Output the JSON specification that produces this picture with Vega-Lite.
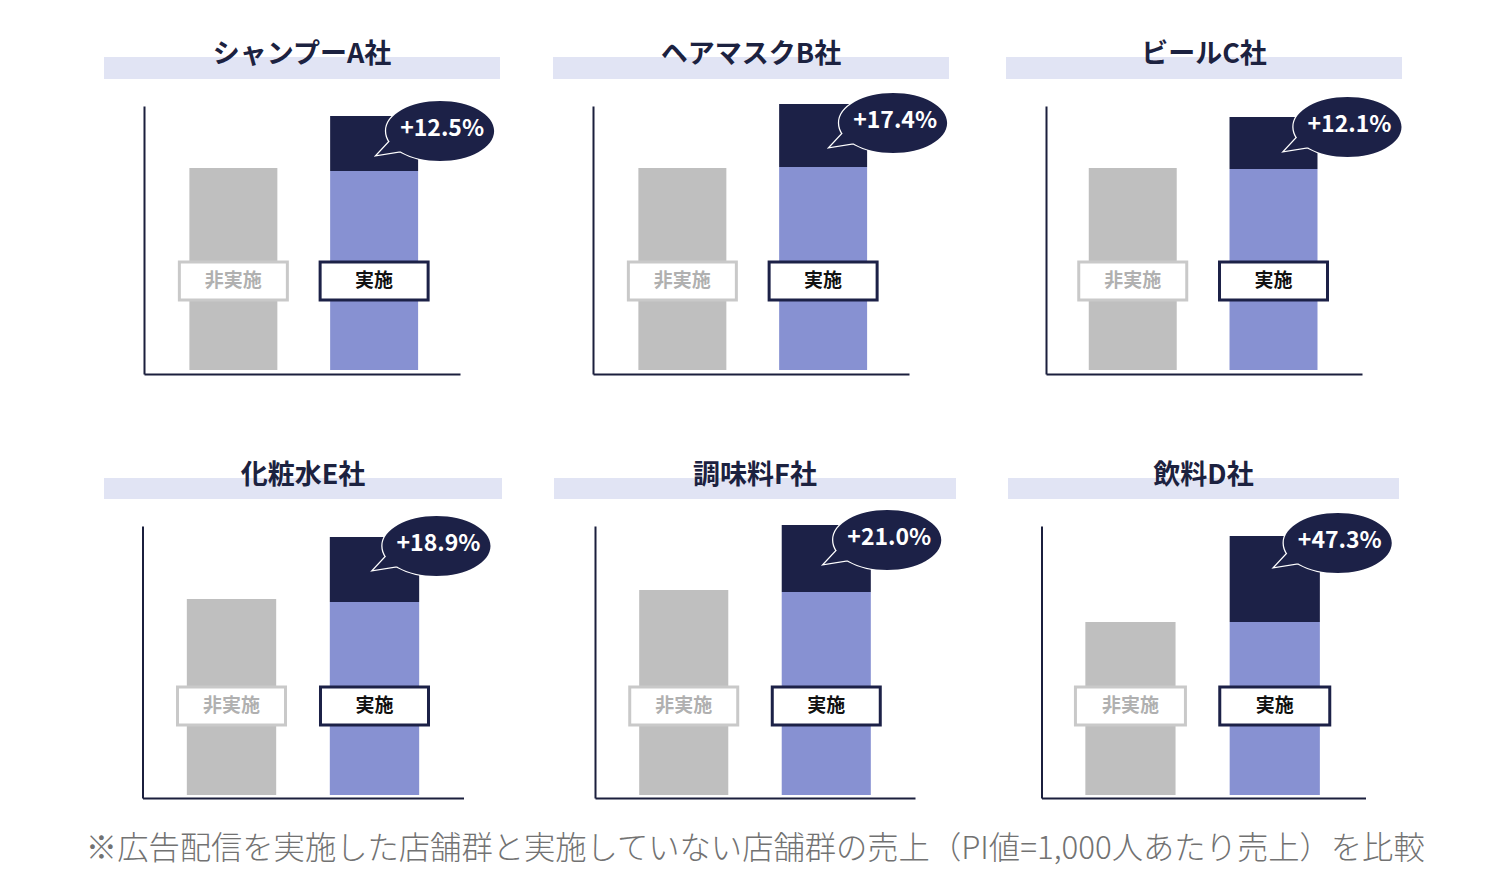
{
  "$schema": "https://vega.github.io/schema/vega-lite/v6.json",
  "padding": {"left": 85, "top": 41, "right": 0, "bottom": 10},
  "background": "white",
  "datasets": {
    "bars": [
      {"company": "シャンプーA社", "group": "非実施", "part": "非実施", "value": 202},
      {"company": "シャンプーA社", "group": "実施", "part": "実施", "value": 199},
      {"company": "シャンプーA社", "group": "実施", "part": "増分", "value": 55, "lift": "+12.5%"},
      {"company": "ヘアマスクB社", "group": "非実施", "part": "非実施", "value": 202},
      {"company": "ヘアマスクB社", "group": "実施", "part": "実施", "value": 203},
      {"company": "ヘアマスクB社", "group": "実施", "part": "増分", "value": 63, "lift": "+17.4%"},
      {"company": "ビールC社", "group": "非実施", "part": "非実施", "value": 202},
      {"company": "ビールC社", "group": "実施", "part": "実施", "value": 201},
      {"company": "ビールC社", "group": "実施", "part": "増分", "value": 52, "lift": "+12.1%"},
      {"company": "化粧水E社", "group": "非実施", "part": "非実施", "value": 196},
      {"company": "化粧水E社", "group": "実施", "part": "実施", "value": 193},
      {"company": "化粧水E社", "group": "実施", "part": "増分", "value": 65, "lift": "+18.9%"},
      {"company": "調味料F社", "group": "非実施", "part": "非実施", "value": 205},
      {"company": "調味料F社", "group": "実施", "part": "実施", "value": 203},
      {"company": "調味料F社", "group": "実施", "part": "増分", "value": 67, "lift": "+21.0%"},
      {"company": "飲料D社", "group": "非実施", "part": "非実施", "value": 173},
      {"company": "飲料D社", "group": "実施", "part": "実施", "value": 173},
      {"company": "飲料D社", "group": "実施", "part": "増分", "value": 86, "lift": "+47.3%"}
    ]
  },
  "title": {
    "text": "※広告配信を実施した店舗群と実施していない店舗群の売上（PI値=1,000人あたり売上）を比較",
    "orient": "bottom",
    "anchor": "middle",
    "fontSize": 31.3,
    "fontWeight": 300,
    "color": "#727272",
    "offset": 36
  },
  "spacing": 87,
  "vconcat": [
    {
      "spacing": 53,
      "hconcat": [
        {
          "columns": 1, "spacing": 27, "center": true, "align": "each", "bounds": "flush",
          "concat": [
            {
              "width": 396, "height": 22,
              "view": {"fill": "#e1e4f4", "stroke": null},
              "data": {"name": "bars"},
              "transform": [{"filter": "datum.company == 'シャンプーA社' && datum.part == '非実施'"}],
              "mark": {"type": "text", "fontSize": 27, "fontWeight": "bold", "color": "#1c2240", "dy": -13},
              "encoding": {"text": {"field": "company"}}
            },
            {
              "width": 316, "height": 268,
              "data": {"name": "bars"},
              "transform": [{"filter": "datum.company == 'シャンプーA社'"}],
              "encoding": {"x": {"field": "group", "type": "nominal", "sort": ["非実施", "実施"], "title": null, "scale": {"paddingInner": 0.375, "paddingOuter": 0.31, "align": 0.52}}},
              "layer": [
                {"mark": "bar", "encoding": {
                  "y": {"field": "value", "type": "quantitative", "stack": "zero", "title": null, "scale": {"domain": [-4, 264], "nice": false}},
                  "color": {"field": "part", "type": "nominal", "scale": {"domain": ["非実施", "実施", "増分"], "range": ["#bfbfbf", "#8791d2", "#1c2147"]}, "legend": null},
                  "order": {"field": "part", "sort": "descending"}}},
                {"transform": [{"filter": "datum.part != '増分'"}],
                 "mark": {"type": "bar", "width": 108, "fill": "white", "opacity": 1, "strokeWidth": 3, "stroke": {"expr": "datum.group == '実施' ? '#1c2147' : '#c9c9c9'"}},
                 "encoding": {"y": {"datum": 70}, "y2": {"datum": 108}}},
                {"transform": [{"filter": "datum.part != '増分'"}],
                 "mark": {"type": "text", "fontSize": 19, "fontWeight": "bold", "color": {"expr": "datum.group == '実施' ? '#111111' : '#b0b0b0'"}},
                 "encoding": {"y": {"datum": 89}, "text": {"field": "group"}}},
                {"transform": [{"filter": "datum.group == '実施'"}, {"joinaggregate": [{"op": "sum", "field": "value", "as": "total"}]}, {"filter": "datum.part == '増分'"}],
                 "mark": {"type": "point", "shape": "M-0.9818,0C-0.9818,-0.3013,-0.5422,-0.5455,0,-0.5455C0.5422,-0.5455,0.9818,-0.3013,0.9818,0C0.9818,0.3013,0.5422,0.5455,0,0.5455C-0.5422,0.5455,-0.9818,0.3013,-0.9818,0ZM-0.9091,0.1818L-0.6909,0.3636L-1.1455,0.4364Z", "size": 12100, "filled": true, "fill": "#1c2147", "stroke": "white", "strokeWidth": 2.5, "opacity": 1, "xOffset": 66, "yOffset": 15},
                 "encoding": {"y": {"field": "total", "type": "quantitative", "title": null}}},
                {"transform": [{"filter": "datum.group == '実施'"}, {"joinaggregate": [{"op": "sum", "field": "value", "as": "total"}]}, {"filter": "datum.part == '増分'"}],
                 "mark": {"type": "point", "shape": "M-0.9818,0C-0.9818,-0.3013,-0.5422,-0.5455,0,-0.5455C0.5422,-0.5455,0.9818,-0.3013,0.9818,0C0.9818,0.3013,0.5422,0.5455,0,0.5455C-0.5422,0.5455,-0.9818,0.3013,-0.9818,0ZM-0.9091,0.1818L-0.6909,0.3636L-1.1455,0.4364Z", "size": 12100, "filled": true, "fill": "#1c2147", "strokeWidth": 0, "opacity": 1, "xOffset": 66, "yOffset": 15},
                 "encoding": {"y": {"field": "total", "type": "quantitative", "title": null}}},
                {"transform": [{"filter": "datum.group == '実施'"}, {"joinaggregate": [{"op": "sum", "field": "value", "as": "total"}]}, {"filter": "datum.part == '増分'"}],
                 "mark": {"type": "text", "fontSize": 23, "fontWeight": "bold", "color": "white", "xOffset": 68, "yOffset": 13},
                 "encoding": {"y": {"field": "total", "type": "quantitative", "title": null}, "text": {"field": "lift"}}}
              ]
            }
          ]
        },
        {
          "columns": 1, "spacing": 27, "center": true, "align": "each", "bounds": "flush",
          "concat": [
            {
              "width": 396, "height": 22,
              "view": {"fill": "#e1e4f4", "stroke": null},
              "data": {"name": "bars"},
              "transform": [{"filter": "datum.company == 'ヘアマスクB社' && datum.part == '非実施'"}],
              "mark": {"type": "text", "fontSize": 27, "fontWeight": "bold", "color": "#1c2240", "dy": -13},
              "encoding": {"text": {"field": "company"}}
            },
            {
              "width": 316, "height": 268,
              "data": {"name": "bars"},
              "transform": [{"filter": "datum.company == 'ヘアマスクB社'"}],
              "encoding": {"x": {"field": "group", "type": "nominal", "sort": ["非実施", "実施"], "title": null, "scale": {"paddingInner": 0.375, "paddingOuter": 0.31, "align": 0.52}}},
              "layer": [
                {"mark": "bar", "encoding": {
                  "y": {"field": "value", "type": "quantitative", "stack": "zero", "title": null, "scale": {"domain": [-4, 264], "nice": false}},
                  "color": {"field": "part", "type": "nominal", "scale": {"domain": ["非実施", "実施", "増分"], "range": ["#bfbfbf", "#8791d2", "#1c2147"]}, "legend": null},
                  "order": {"field": "part", "sort": "descending"}}},
                {"transform": [{"filter": "datum.part != '増分'"}],
                 "mark": {"type": "bar", "width": 108, "fill": "white", "opacity": 1, "strokeWidth": 3, "stroke": {"expr": "datum.group == '実施' ? '#1c2147' : '#c9c9c9'"}},
                 "encoding": {"y": {"datum": 70}, "y2": {"datum": 108}}},
                {"transform": [{"filter": "datum.part != '増分'"}],
                 "mark": {"type": "text", "fontSize": 19, "fontWeight": "bold", "color": {"expr": "datum.group == '実施' ? '#111111' : '#b0b0b0'"}},
                 "encoding": {"y": {"datum": 89}, "text": {"field": "group"}}},
                {"transform": [{"filter": "datum.group == '実施'"}, {"joinaggregate": [{"op": "sum", "field": "value", "as": "total"}]}, {"filter": "datum.part == '増分'"}],
                 "mark": {"type": "point", "shape": "M-0.9818,0C-0.9818,-0.3013,-0.5422,-0.5455,0,-0.5455C0.5422,-0.5455,0.9818,-0.3013,0.9818,0C0.9818,0.3013,0.5422,0.5455,0,0.5455C-0.5422,0.5455,-0.9818,0.3013,-0.9818,0ZM-0.9091,0.1818L-0.6909,0.3636L-1.1455,0.4364Z", "size": 12100, "filled": true, "fill": "#1c2147", "stroke": "white", "strokeWidth": 2.5, "opacity": 1, "xOffset": 70, "yOffset": 19},
                 "encoding": {"y": {"field": "total", "type": "quantitative", "title": null}}},
                {"transform": [{"filter": "datum.group == '実施'"}, {"joinaggregate": [{"op": "sum", "field": "value", "as": "total"}]}, {"filter": "datum.part == '増分'"}],
                 "mark": {"type": "point", "shape": "M-0.9818,0C-0.9818,-0.3013,-0.5422,-0.5455,0,-0.5455C0.5422,-0.5455,0.9818,-0.3013,0.9818,0C0.9818,0.3013,0.5422,0.5455,0,0.5455C-0.5422,0.5455,-0.9818,0.3013,-0.9818,0ZM-0.9091,0.1818L-0.6909,0.3636L-1.1455,0.4364Z", "size": 12100, "filled": true, "fill": "#1c2147", "strokeWidth": 0, "opacity": 1, "xOffset": 70, "yOffset": 19},
                 "encoding": {"y": {"field": "total", "type": "quantitative", "title": null}}},
                {"transform": [{"filter": "datum.group == '実施'"}, {"joinaggregate": [{"op": "sum", "field": "value", "as": "total"}]}, {"filter": "datum.part == '増分'"}],
                 "mark": {"type": "text", "fontSize": 23, "fontWeight": "bold", "color": "white", "xOffset": 72, "yOffset": 17},
                 "encoding": {"y": {"field": "total", "type": "quantitative", "title": null}, "text": {"field": "lift"}}}
              ]
            }
          ]
        },
        {
          "columns": 1, "spacing": 27, "center": true, "align": "each", "bounds": "flush",
          "concat": [
            {
              "width": 396, "height": 22,
              "view": {"fill": "#e1e4f4", "stroke": null},
              "data": {"name": "bars"},
              "transform": [{"filter": "datum.company == 'ビールC社' && datum.part == '非実施'"}],
              "mark": {"type": "text", "fontSize": 27, "fontWeight": "bold", "color": "#1c2240", "dy": -13},
              "encoding": {"text": {"field": "company"}}
            },
            {
              "width": 316, "height": 268,
              "data": {"name": "bars"},
              "transform": [{"filter": "datum.company == 'ビールC社'"}],
              "encoding": {"x": {"field": "group", "type": "nominal", "sort": ["非実施", "実施"], "title": null, "scale": {"paddingInner": 0.375, "paddingOuter": 0.31, "align": 0.49}}},
              "layer": [
                {"mark": "bar", "encoding": {
                  "y": {"field": "value", "type": "quantitative", "stack": "zero", "title": null, "scale": {"domain": [-4, 264], "nice": false}},
                  "color": {"field": "part", "type": "nominal", "scale": {"domain": ["非実施", "実施", "増分"], "range": ["#bfbfbf", "#8791d2", "#1c2147"]}, "legend": null},
                  "order": {"field": "part", "sort": "descending"}}},
                {"transform": [{"filter": "datum.part != '増分'"}],
                 "mark": {"type": "bar", "width": 108, "fill": "white", "opacity": 1, "strokeWidth": 3, "stroke": {"expr": "datum.group == '実施' ? '#1c2147' : '#c9c9c9'"}},
                 "encoding": {"y": {"datum": 70}, "y2": {"datum": 108}}},
                {"transform": [{"filter": "datum.part != '増分'"}],
                 "mark": {"type": "text", "fontSize": 19, "fontWeight": "bold", "color": {"expr": "datum.group == '実施' ? '#111111' : '#b0b0b0'"}},
                 "encoding": {"y": {"datum": 89}, "text": {"field": "group"}}},
                {"transform": [{"filter": "datum.group == '実施'"}, {"joinaggregate": [{"op": "sum", "field": "value", "as": "total"}]}, {"filter": "datum.part == '増分'"}],
                 "mark": {"type": "point", "shape": "M-0.9818,0C-0.9818,-0.3013,-0.5422,-0.5455,0,-0.5455C0.5422,-0.5455,0.9818,-0.3013,0.9818,0C0.9818,0.3013,0.5422,0.5455,0,0.5455C-0.5422,0.5455,-0.9818,0.3013,-0.9818,0ZM-0.9091,0.1818L-0.6909,0.3636L-1.1455,0.4364Z", "size": 12100, "filled": true, "fill": "#1c2147", "stroke": "white", "strokeWidth": 2.5, "opacity": 1, "xOffset": 74, "yOffset": 10},
                 "encoding": {"y": {"field": "total", "type": "quantitative", "title": null}}},
                {"transform": [{"filter": "datum.group == '実施'"}, {"joinaggregate": [{"op": "sum", "field": "value", "as": "total"}]}, {"filter": "datum.part == '増分'"}],
                 "mark": {"type": "point", "shape": "M-0.9818,0C-0.9818,-0.3013,-0.5422,-0.5455,0,-0.5455C0.5422,-0.5455,0.9818,-0.3013,0.9818,0C0.9818,0.3013,0.5422,0.5455,0,0.5455C-0.5422,0.5455,-0.9818,0.3013,-0.9818,0ZM-0.9091,0.1818L-0.6909,0.3636L-1.1455,0.4364Z", "size": 12100, "filled": true, "fill": "#1c2147", "strokeWidth": 0, "opacity": 1, "xOffset": 74, "yOffset": 10},
                 "encoding": {"y": {"field": "total", "type": "quantitative", "title": null}}},
                {"transform": [{"filter": "datum.group == '実施'"}, {"joinaggregate": [{"op": "sum", "field": "value", "as": "total"}]}, {"filter": "datum.part == '増分'"}],
                 "mark": {"type": "text", "fontSize": 23, "fontWeight": "bold", "color": "white", "xOffset": 76, "yOffset": 8},
                 "encoding": {"y": {"field": "total", "type": "quantitative", "title": null}, "text": {"field": "lift"}}}
              ]
            }
          ]
        }
      ]
    },
    {
      "spacing": 52,
      "hconcat": [
        {
          "columns": 1, "spacing": 27, "center": true, "align": "each", "bounds": "flush",
          "concat": [
            {
              "width": 398, "height": 21,
              "view": {"fill": "#e1e4f4", "stroke": null},
              "data": {"name": "bars"},
              "transform": [{"filter": "datum.company == '化粧水E社' && datum.part == '非実施'"}],
              "mark": {"type": "text", "fontSize": 27, "fontWeight": "bold", "color": "#1c2240", "dy": -13},
              "encoding": {"text": {"field": "company"}}
            },
            {
              "width": 321, "height": 272,
              "data": {"name": "bars"},
              "transform": [{"filter": "datum.company == '化粧水E社'"}],
              "encoding": {"x": {"field": "group", "type": "nominal", "sort": ["非実施", "実施"], "title": null, "scale": {"paddingInner": 0.375, "paddingOuter": 0.31, "align": 0.5}}},
              "layer": [
                {"mark": "bar", "encoding": {
                  "y": {"field": "value", "type": "quantitative", "stack": "zero", "title": null, "scale": {"domain": [-3, 269], "nice": false}},
                  "color": {"field": "part", "type": "nominal", "scale": {"domain": ["非実施", "実施", "増分"], "range": ["#bfbfbf", "#8791d2", "#1c2147"]}, "legend": null},
                  "order": {"field": "part", "sort": "descending"}}},
                {"transform": [{"filter": "datum.part != '増分'"}],
                 "mark": {"type": "bar", "width": 108, "fill": "white", "opacity": 1, "strokeWidth": 3, "stroke": {"expr": "datum.group == '実施' ? '#1c2147' : '#c9c9c9'"}},
                 "encoding": {"y": {"datum": 70}, "y2": {"datum": 108}}},
                {"transform": [{"filter": "datum.part != '増分'"}],
                 "mark": {"type": "text", "fontSize": 19, "fontWeight": "bold", "color": {"expr": "datum.group == '実施' ? '#111111' : '#b0b0b0'"}},
                 "encoding": {"y": {"datum": 89}, "text": {"field": "group"}}},
                {"transform": [{"filter": "datum.group == '実施'"}, {"joinaggregate": [{"op": "sum", "field": "value", "as": "total"}]}, {"filter": "datum.part == '増分'"}],
                 "mark": {"type": "point", "shape": "M-0.9818,0C-0.9818,-0.3013,-0.5422,-0.5455,0,-0.5455C0.5422,-0.5455,0.9818,-0.3013,0.9818,0C0.9818,0.3013,0.5422,0.5455,0,0.5455C-0.5422,0.5455,-0.9818,0.3013,-0.9818,0ZM-0.9091,0.1818L-0.6909,0.3636L-1.1455,0.4364Z", "size": 12100, "filled": true, "fill": "#1c2147", "stroke": "white", "strokeWidth": 2.5, "opacity": 1, "xOffset": 62, "yOffset": 9},
                 "encoding": {"y": {"field": "total", "type": "quantitative", "title": null}}},
                {"transform": [{"filter": "datum.group == '実施'"}, {"joinaggregate": [{"op": "sum", "field": "value", "as": "total"}]}, {"filter": "datum.part == '増分'"}],
                 "mark": {"type": "point", "shape": "M-0.9818,0C-0.9818,-0.3013,-0.5422,-0.5455,0,-0.5455C0.5422,-0.5455,0.9818,-0.3013,0.9818,0C0.9818,0.3013,0.5422,0.5455,0,0.5455C-0.5422,0.5455,-0.9818,0.3013,-0.9818,0ZM-0.9091,0.1818L-0.6909,0.3636L-1.1455,0.4364Z", "size": 12100, "filled": true, "fill": "#1c2147", "strokeWidth": 0, "opacity": 1, "xOffset": 62, "yOffset": 9},
                 "encoding": {"y": {"field": "total", "type": "quantitative", "title": null}}},
                {"transform": [{"filter": "datum.group == '実施'"}, {"joinaggregate": [{"op": "sum", "field": "value", "as": "total"}]}, {"filter": "datum.part == '増分'"}],
                 "mark": {"type": "text", "fontSize": 23, "fontWeight": "bold", "color": "white", "xOffset": 64, "yOffset": 7},
                 "encoding": {"y": {"field": "total", "type": "quantitative", "title": null}, "text": {"field": "lift"}}}
              ]
            }
          ]
        },
        {
          "columns": 1, "spacing": 27, "center": true, "align": "each", "bounds": "flush",
          "concat": [
            {
              "width": 402, "height": 21,
              "view": {"fill": "#e1e4f4", "stroke": null},
              "data": {"name": "bars"},
              "transform": [{"filter": "datum.company == '調味料F社' && datum.part == '非実施'"}],
              "mark": {"type": "text", "fontSize": 27, "fontWeight": "bold", "color": "#1c2240", "dy": -13},
              "encoding": {"text": {"field": "company"}}
            },
            {
              "width": 320, "height": 272,
              "data": {"name": "bars"},
              "transform": [{"filter": "datum.company == '調味料F社'"}],
              "encoding": {"x": {"field": "group", "type": "nominal", "sort": ["非実施", "実施"], "title": null, "scale": {"paddingInner": 0.375, "paddingOuter": 0.31, "align": 0.5}}},
              "layer": [
                {"mark": "bar", "encoding": {
                  "y": {"field": "value", "type": "quantitative", "stack": "zero", "title": null, "scale": {"domain": [-3, 269], "nice": false}},
                  "color": {"field": "part", "type": "nominal", "scale": {"domain": ["非実施", "実施", "増分"], "range": ["#bfbfbf", "#8791d2", "#1c2147"]}, "legend": null},
                  "order": {"field": "part", "sort": "descending"}}},
                {"transform": [{"filter": "datum.part != '増分'"}],
                 "mark": {"type": "bar", "width": 108, "fill": "white", "opacity": 1, "strokeWidth": 3, "stroke": {"expr": "datum.group == '実施' ? '#1c2147' : '#c9c9c9'"}},
                 "encoding": {"y": {"datum": 70}, "y2": {"datum": 108}}},
                {"transform": [{"filter": "datum.part != '増分'"}],
                 "mark": {"type": "text", "fontSize": 19, "fontWeight": "bold", "color": {"expr": "datum.group == '実施' ? '#111111' : '#b0b0b0'"}},
                 "encoding": {"y": {"datum": 89}, "text": {"field": "group"}}},
                {"transform": [{"filter": "datum.group == '実施'"}, {"joinaggregate": [{"op": "sum", "field": "value", "as": "total"}]}, {"filter": "datum.part == '増分'"}],
                 "mark": {"type": "point", "shape": "M-0.9818,0C-0.9818,-0.3013,-0.5422,-0.5455,0,-0.5455C0.5422,-0.5455,0.9818,-0.3013,0.9818,0C0.9818,0.3013,0.5422,0.5455,0,0.5455C-0.5422,0.5455,-0.9818,0.3013,-0.9818,0ZM-0.9091,0.1818L-0.6909,0.3636L-1.1455,0.4364Z", "size": 12100, "filled": true, "fill": "#1c2147", "stroke": "white", "strokeWidth": 2.5, "opacity": 1, "xOffset": 61, "yOffset": 15},
                 "encoding": {"y": {"field": "total", "type": "quantitative", "title": null}}},
                {"transform": [{"filter": "datum.group == '実施'"}, {"joinaggregate": [{"op": "sum", "field": "value", "as": "total"}]}, {"filter": "datum.part == '増分'"}],
                 "mark": {"type": "point", "shape": "M-0.9818,0C-0.9818,-0.3013,-0.5422,-0.5455,0,-0.5455C0.5422,-0.5455,0.9818,-0.3013,0.9818,0C0.9818,0.3013,0.5422,0.5455,0,0.5455C-0.5422,0.5455,-0.9818,0.3013,-0.9818,0ZM-0.9091,0.1818L-0.6909,0.3636L-1.1455,0.4364Z", "size": 12100, "filled": true, "fill": "#1c2147", "strokeWidth": 0, "opacity": 1, "xOffset": 61, "yOffset": 15},
                 "encoding": {"y": {"field": "total", "type": "quantitative", "title": null}}},
                {"transform": [{"filter": "datum.group == '実施'"}, {"joinaggregate": [{"op": "sum", "field": "value", "as": "total"}]}, {"filter": "datum.part == '増分'"}],
                 "mark": {"type": "text", "fontSize": 23, "fontWeight": "bold", "color": "white", "xOffset": 63, "yOffset": 13},
                 "encoding": {"y": {"field": "total", "type": "quantitative", "title": null}, "text": {"field": "lift"}}}
              ]
            }
          ]
        },
        {
          "columns": 1, "spacing": 27, "center": true, "align": "each", "bounds": "flush",
          "concat": [
            {
              "width": 391, "height": 21,
              "view": {"fill": "#e1e4f4", "stroke": null},
              "data": {"name": "bars"},
              "transform": [{"filter": "datum.company == '飲料D社' && datum.part == '非実施'"}],
              "mark": {"type": "text", "fontSize": 27, "fontWeight": "bold", "color": "#1c2240", "dy": -13},
              "encoding": {"text": {"field": "company"}}
            },
            {
              "width": 324, "height": 272,
              "data": {"name": "bars"},
              "transform": [{"filter": "datum.company == '飲料D社'"}],
              "encoding": {"x": {"field": "group", "type": "nominal", "sort": ["非実施", "実施"], "title": null, "scale": {"paddingInner": 0.375, "paddingOuter": 0.31, "align": 0.49}}},
              "layer": [
                {"mark": "bar", "encoding": {
                  "y": {"field": "value", "type": "quantitative", "stack": "zero", "title": null, "scale": {"domain": [-3, 269], "nice": false}},
                  "color": {"field": "part", "type": "nominal", "scale": {"domain": ["非実施", "実施", "増分"], "range": ["#bfbfbf", "#8791d2", "#1c2147"]}, "legend": null},
                  "order": {"field": "part", "sort": "descending"}}},
                {"transform": [{"filter": "datum.part != '増分'"}],
                 "mark": {"type": "bar", "width": 110, "fill": "white", "opacity": 1, "strokeWidth": 3, "stroke": {"expr": "datum.group == '実施' ? '#1c2147' : '#c9c9c9'"}},
                 "encoding": {"y": {"datum": 70}, "y2": {"datum": 108}}},
                {"transform": [{"filter": "datum.part != '増分'"}],
                 "mark": {"type": "text", "fontSize": 19, "fontWeight": "bold", "color": {"expr": "datum.group == '実施' ? '#111111' : '#b0b0b0'"}},
                 "encoding": {"y": {"datum": 89}, "text": {"field": "group"}}},
                {"transform": [{"filter": "datum.group == '実施'"}, {"joinaggregate": [{"op": "sum", "field": "value", "as": "total"}]}, {"filter": "datum.part == '増分'"}],
                 "mark": {"type": "point", "shape": "M-0.9818,0C-0.9818,-0.3013,-0.5422,-0.5455,0,-0.5455C0.5422,-0.5455,0.9818,-0.3013,0.9818,0C0.9818,0.3013,0.5422,0.5455,0,0.5455C-0.5422,0.5455,-0.9818,0.3013,-0.9818,0ZM-0.9091,0.1818L-0.6909,0.3636L-1.1455,0.4364Z", "size": 12100, "filled": true, "fill": "#1c2147", "stroke": "white", "strokeWidth": 2.5, "opacity": 1, "xOffset": 63, "yOffset": 7},
                 "encoding": {"y": {"field": "total", "type": "quantitative", "title": null}}},
                {"transform": [{"filter": "datum.group == '実施'"}, {"joinaggregate": [{"op": "sum", "field": "value", "as": "total"}]}, {"filter": "datum.part == '増分'"}],
                 "mark": {"type": "point", "shape": "M-0.9818,0C-0.9818,-0.3013,-0.5422,-0.5455,0,-0.5455C0.5422,-0.5455,0.9818,-0.3013,0.9818,0C0.9818,0.3013,0.5422,0.5455,0,0.5455C-0.5422,0.5455,-0.9818,0.3013,-0.9818,0ZM-0.9091,0.1818L-0.6909,0.3636L-1.1455,0.4364Z", "size": 12100, "filled": true, "fill": "#1c2147", "strokeWidth": 0, "opacity": 1, "xOffset": 63, "yOffset": 7},
                 "encoding": {"y": {"field": "total", "type": "quantitative", "title": null}}},
                {"transform": [{"filter": "datum.group == '実施'"}, {"joinaggregate": [{"op": "sum", "field": "value", "as": "total"}]}, {"filter": "datum.part == '増分'"}],
                 "mark": {"type": "text", "fontSize": 23, "fontWeight": "bold", "color": "white", "xOffset": 65, "yOffset": 5},
                 "encoding": {"y": {"field": "total", "type": "quantitative", "title": null}, "text": {"field": "lift"}}}
              ]
            }
          ]
        }
      ]
    }
  ],
  "config": {
    "font": "Noto Sans CJK JP",
    "view": {"stroke": null},
    "axis": {"domainColor": "#1b1f3d", "domainWidth": 2, "ticks": false, "labels": false, "grid": false}
  }
}
